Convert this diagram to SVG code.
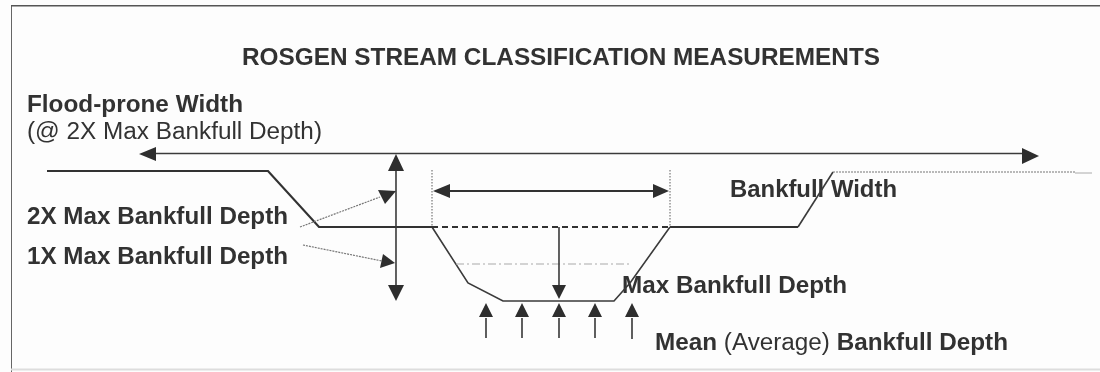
<svg xmlns="http://www.w3.org/2000/svg" width="1100" height="372" viewBox="0 0 1100 372">
<style>
text{font-family:"Liberation Sans",Arial,sans-serif;fill:#333;font-size:23px;font-weight:bold}
.r{font-weight:normal}
.l{fill:none;stroke:#3a3a3a;stroke-width:1.6}
.t{fill:none;stroke:#333;stroke-width:2.2}
.d{fill:none;stroke:#777;stroke-width:1.2;stroke-dasharray:2 1}
.a{fill:#2e2e2e}
</style>
<defs><filter id="soft" x="0" y="0" width="100%" height="100%"><feGaussianBlur stdDeviation="0.45"/></filter></defs>
<rect width="1100" height="372" fill="#fdfdfd"/>
<g filter="url(#soft)">
<g id="frame"><path d="M1100 5.500H11V372" fill="none" stroke="#555" stroke-width="1.800"/><path d="M11 369.500H1100" stroke="#ddd" stroke-width="2"/></g>
<g id="labels">
<text x="242" y="65" textLength="638" lengthAdjust="spacingAndGlyphs">ROSGEN STREAM CLASSIFICATION MEASUREMENTS</text>
<text x="27" y="112" textLength="216" lengthAdjust="spacingAndGlyphs">Flood-prone Width</text>
<text x="27" y="139" class="r" textLength="295" lengthAdjust="spacingAndGlyphs">(@ 2X Max Bankfull Depth)</text>
<text x="27" y="224" textLength="261" lengthAdjust="spacingAndGlyphs">2X Max Bankfull Depth</text>
<text x="27" y="264" textLength="261" lengthAdjust="spacingAndGlyphs">1X Max Bankfull Depth</text>
<text x="730" y="197" textLength="167" lengthAdjust="spacingAndGlyphs">Bankfull Width</text>
<text x="622" y="293" textLength="225" lengthAdjust="spacingAndGlyphs">Max Bankfull Depth</text>
<text x="655" y="350" textLength="353" lengthAdjust="spacingAndGlyphs">Mean <tspan class="r">(Average)</tspan> Bankfull Depth</text>
</g>
<g id="connectors">
<path class="l" d="M150 153.500H1022"/>
<path class="a" d="M139 154L156 147V161ZM1039 156L1022 148V164Z"/>
<path class="t" d="M47 171H268L319 227H432"/>
<path class="t" d="M670 227H798"/>
<path class="l" d="M798 227L833 172"/>
<path class="d" d="M833 172H1075"/><path d="M1075 173H1092" stroke="#aaa" stroke-width="1"/>
<path class="l" d="M432 227L468 283L503 301H614L630 283L670 227"/>
<path d="M432 227H670" fill="none" stroke="#333" stroke-width="1.800" stroke-dasharray="6 4"/>
<path d="M456 264H630" fill="none" stroke="#aaa" stroke-width="1.200" stroke-dasharray="8 3 2 3"/>
<path class="d" d="M432 170V227M670 170V227" style="stroke-dasharray:1.500 1.500"/>
<path class="t" d="M448 191H655"/>
<path class="a" d="M433 191L450 184V198ZM669 191L653 184V198Z"/>
<path class="l" d="M396 165V295"/>
<path class="a" d="M396 154L404 171H388ZM396 301L388 285H404Z"/>
<path class="d" d="M300 227L380 197"/>
<path class="a" d="M378 190L396 191L385 204Z"/>
<path class="d" d="M303 245L382 261"/>
<path class="a" d="M383 254L395 263L380 268Z"/>
<path class="l" d="M559 227V285"/>
<path class="a" d="M559 299L552 285H566Z"/>
<path class="l" d="M486 338V318M522 338V318M559 338V318M595 338V318M632 339V318"/>
<path class="a" d="M486 303L493 317H479ZM522 303L529 317H515ZM559 303L566 317H552ZM595 303L602 317H588ZM632 303L639 317H625Z"/>
</g>
</g>
</svg>
